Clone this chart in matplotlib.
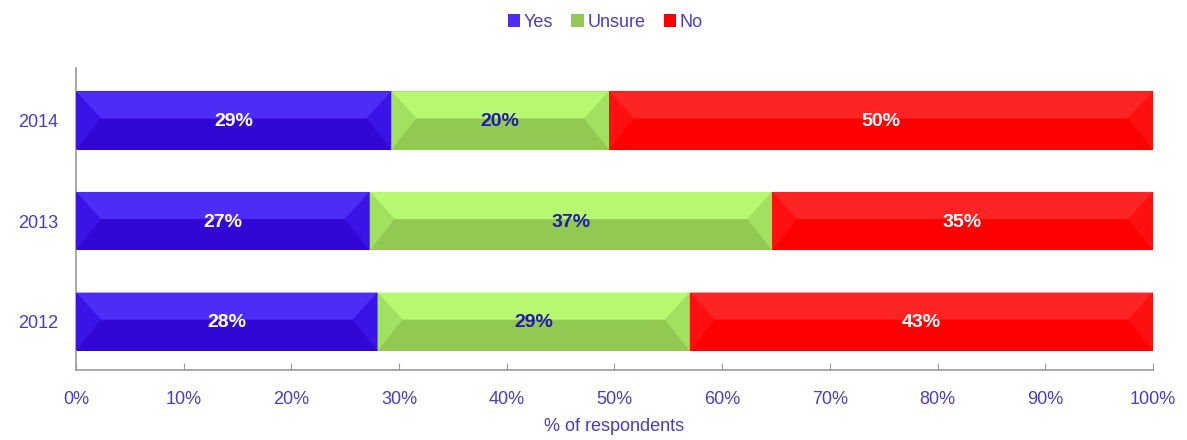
import numpy as np
import matplotlib.pyplot as plt
from matplotlib.patches import Polygon, Patch

plt.rcParams['font.family'] = ['Liberation Sans Narrow', 'Liberation Sans', 'DejaVu Sans']

years = ['2012', '2013', '2014']
yes = np.array([28, 27, 29])
unsure = np.array([29, 37, 20])
no = np.array([43, 35, 50])

series = [
    # name, values, light, side, dark, label colour
    ('Yes', yes, '#4d2cf6', '#3a14e6', '#3207d6', 'white'),
    ('Unsure', unsure, '#b6f870', '#a2e060', '#92c952', '#1f1aa8'),
    ('No', no, '#ff2424', '#ff1010', '#fe0000', 'white'),
]
label_col = '#4a3cc4'

# normalise each year to 100 % (the rounded values don't always add up)
totals = yes + unsure + no

fig = plt.figure(figsize=(11.87, 4.4), dpi=100)
ax = fig.add_axes([0.064, 0.159, 0.9073, 0.686])

h = 0.58
bev_x = 2.3
ypos = np.arange(len(years))
left = np.zeros(len(years))
handles = []
for name, vals, light, side, dark, tcol in series:
    w = vals / totals * 100
    ax.barh(ypos, w, left=left, height=h, color=dark, edgecolor='none', zorder=2)
    for y, x0, ww, v in zip(ypos, left, w, vals):
        x1 = x0 + ww
        top, bot, mid = y + h / 2, y - h / 2, y + 0.02
        b = min(bev_x, ww / 2)
        # bevelled faces: top light, sides medium
        ax.add_patch(Polygon([(x0, top), (x1, top), (x1 - b, mid), (x0 + b, mid)],
                             closed=True, fc=light, ec='none', zorder=3))
        ax.add_patch(Polygon([(x0, top), (x0 + b, mid), (x0, bot)],
                             closed=True, fc=side, ec='none', zorder=3))
        ax.add_patch(Polygon([(x1, top), (x1 - b, mid), (x1, bot)],
                             closed=True, fc=side, ec='none', zorder=3))
        ax.text(x0 + ww / 2, y - 0.01, f'{v}%', ha='center', va='center', color=tcol,
                fontsize=14, fontweight='bold', zorder=4)
    handles.append(Patch(fc=light if name == 'Yes' else dark, ec='none', label=name))
    left = left + w

ax.set_xlim(0, 100)
ax.set_ylim(-0.48, 2.52)
ax.set_yticks(ypos)
ax.set_yticklabels(years)
ax.set_xticks(np.arange(0, 101, 10))
ax.set_xticklabels([f'{t}%' for t in range(0, 101, 10)])
ax.tick_params(axis='x', direction='in', length=5, color='#9a9a9a', colors=label_col,
               labelsize=13, pad=15)
ax.tick_params(axis='y', length=0, colors=label_col, labelsize=13, pad=13)
for s in ['top', 'right']:
    ax.spines[s].set_visible(False)
for s in ['left', 'bottom']:
    ax.spines[s].set_color('#9a9a9a')
    ax.spines[s].set_linewidth(1.2)
ax.set_xlabel('% of respondents', color=label_col, fontsize=13, labelpad=7)

fig.legend(handles=handles, loc='upper center', bbox_to_anchor=(0.51, 1.005), ncol=3,
           frameon=False, fontsize=13, handlelength=0.7, handleheight=0.7,
           handletextpad=0.2, columnspacing=1.0, labelcolor=label_col)

fig.savefig('out.png', dpi=100, facecolor='white')
